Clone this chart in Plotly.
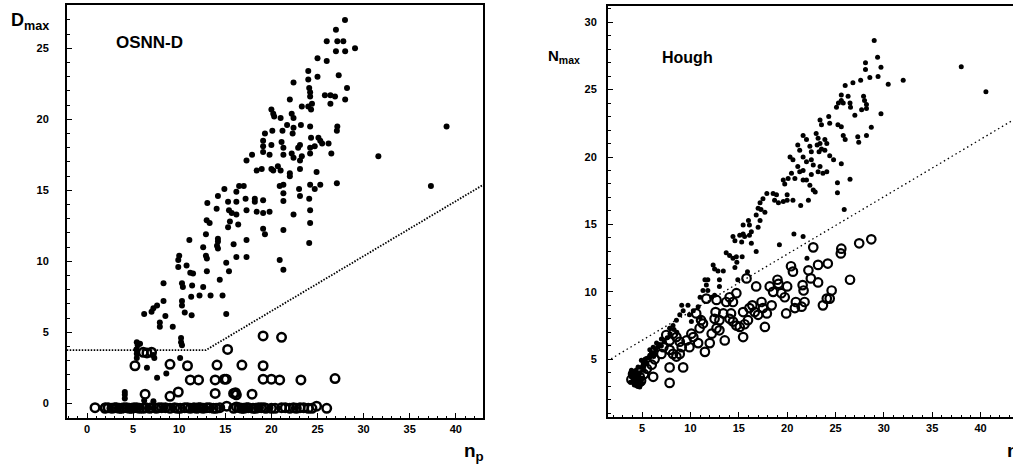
import plotly.graph_objects as go

# ---------------- Left panel: OSNN-D ----------------
osnn_dot_x = [27.98, 27.0, 26.0, 27.15, 27.8, 29.07, 27.0, 28.0, 25.0, 26.0, 24.0, 25.0, 27.3, 22.4, 24.0,
              28.2, 24.1, 24.2, 25.8, 26.4, 26.9, 28.0, 22.0, 24.2, 24.4, 26.4, 23.3, 24.0, 24.3, 20.0,
              20.2, 22.2, 22.4, 20.3, 21.0, 21.7, 22.4, 23.2, 24.2, 27.15, 27.1, 19.3, 19.1, 20.1, 21.2,
              22.3, 24.3, 25.1, 25.3, 20.0, 21.1, 23.1, 22.9, 24.2, 24.2, 25.5, 26.2, 24.7, 19.1, 19.1,
              21.3, 21.3, 19.8, 17.9, 17.3, 22.2, 22.4, 23.3, 23.1, 26.5, 20.0, 20.2, 20.7, 21.0, 18.95,
              18.4, 23.1, 22.0, 22.0, 24.9, 27.1, 24.2, 25.3, 24.7, 21.3, 20.9, 16.5, 14.9, 16.2, 17.0,
              14.2, 15.3, 16.2, 17.2, 18.2, 18.2, 19.1, 21.3, 21.3, 23.0, 23.1, 24.1, 13.05, 14.06, 15.4,
              15.7, 16.2, 17.3, 18.4, 19.1, 19.8, 22.4, 24.2, 12.98, 13.3, 15.5, 16.4, 15.3, 24.2, 19.1,
              21.3, 19.3, 11.1, 12.9, 14.2, 14.2, 14.1, 14.2, 15.9, 17.3, 12.6, 24.1, 12.9, 13.0, 16.2,
              17.3, 20.9, 21.3, 10.0, 9.9, 9.9, 10.8, 13.0, 15.1, 15.4, 11.2, 11.5, 8.3, 10.3, 10.4,
              11.4, 12.6, 14.4, 8.3, 10.3, 10.3, 11.3, 12.2, 13.4, 14.7, 7.6, 7.2, 7.0, 8.5, 10.6,
              11.35, 6.2, 15.1, 7.9, 7.9, 9.3, 5.4, 5.5, 5.75, 10.2, 10.2, 10.3, 5.35, 5.4, 5.4,
              7.2, 7.3, 10.1, 6.5, 7.6, 8.6, 4.1, 4.1, 4.1, 6.2, 7.2, 31.6, 37.3, 39.0,
              3.5, 4.5, 8.5, 11.7, 16.6, 18.5, 2.6, 5.0, 6.6, 9.3, 12.9, 14.6, 17.7, 19.9]
osnn_dot_y = [27.0, 26.3, 25.5, 25.5, 25.5, 25.0, 24.8, 24.8, 24.3, 24.1, 23.4, 23.0, 23.1, 22.6, 22.8,
              22.2, 22.2, 21.9, 21.7, 21.7, 21.6, 21.4, 21.4, 21.6, 21.1, 21.1, 20.9, 20.9, 20.7, 20.7,
              20.4, 20.4, 20.1, 20.2, 20.1, 19.6, 19.4, 19.6, 19.5, 19.5, 19.2, 19.0, 18.5, 19.2, 19.2,
              19.0, 18.7, 18.7, 18.5, 18.2, 18.4, 18.2, 18.0, 18.0, 17.6, 18.3, 18.3, 18.1, 18.1, 17.7,
              18.0, 17.5, 17.5, 17.5, 17.1, 17.6, 17.3, 17.4, 17.1, 17.6, 16.5, 16.4, 16.7, 16.4, 16.5,
              16.4, 16.5, 16.2, 16.0, 16.3, 15.5, 15.4, 15.4, 15.1, 15.4, 15.3, 15.3, 15.1, 14.9, 15.3,
              14.6, 14.2, 14.2, 14.4, 14.4, 14.2, 14.3, 14.8, 14.25, 15.1, 14.6, 14.4, 14.1, 13.7, 13.6,
              13.4, 13.3, 13.6, 13.5, 13.4, 13.5, 13.3, 13.6, 12.9, 12.7, 12.8, 12.6, 12.4, 12.7, 12.3,
              12.2, 11.9, 11.5, 11.9, 11.6, 11.4, 11.1, 10.9, 11.2, 11.5, 11.0, 11.3, 10.4, 10.2, 10.3,
              10.3, 10.1, 9.4, 10.4, 10.1, 9.6, 9.7, 9.3, 9.9, 9.3, 9.2, 9.15, 8.45, 8.45, 8.2,
              8.3, 8.2, 8.7, 7.2, 7.2, 6.9, 7.5, 7.6, 7.6, 7.6, 6.9, 6.7, 6.45, 6.15, 6.4,
              6.2, 6.3, 6.3, 5.7, 5.4, 5.4, 4.3, 4.1, 4.2, 4.6, 4.3, 4.1, 3.8, 3.5, 3.2,
              3.4, 3.2, 3.2, 2.5, 1.8, 2.1, 0.8, 0.6, 0.35, 0.2, 0.15, 17.4, 15.3, 19.5,
              -0.3, -0.25, -0.3, -0.3, -0.3, -0.3, -0.3, -0.3, -0.3, -0.3, -0.3, -0.3, -0.3, -0.3]

osnn_circ_x = [6.1, 7.0, 6.5, 5.2, 9.0, 10.9, 14.1, 16.8, 19.1, 15.25, 19.1, 21.1, 11.2, 12.1, 13.9,
               14.9, 15.1, 19.1, 20.0, 20.9, 23.2, 26.9, 6.3, 9.0, 9.9, 13.9, 15.9, 16.1, 16.2, 17.9,
               0.87, 1.95, 2.3, 2.7, 3.2, 3.75, 4.3, 4.85, 5.4, 6.1, 7.0, 7.5, 8.1, 9.0, 9.5,
               10.1, 10.6, 11.2, 12.1, 12.6, 13.0, 13.7, 15.15, 15.9, 16.5, 17.0, 17.5, 18.0, 18.9, 19.4,
               20.0, 21.1, 22.0, 22.4, 23.1, 24.0, 24.9, 26.0,
               2.0, 3.0, 3.5, 4.0, 4.6, 5.1, 5.7, 6.4, 6.8, 7.8, 8.5, 9.8, 10.9, 11.6, 11.9,
               12.3, 13.3, 14.0, 14.4, 16.2, 16.8, 17.3, 18.3, 18.6, 19.2, 20.4, 21.5, 22.7, 23.5, 24.4]
osnn_circ_y = [3.6, 3.6, 3.55, 2.65, 2.75, 2.65, 2.7, 2.7, 2.65, 3.8, 4.75, 4.65, 1.65, 1.65, 1.65,
               1.7, 1.7, 1.7, 1.7, 1.65, 1.65, 1.75, 0.65, 0.5, 0.8, 0.7, 0.7, 0.75, 0.6, 0.65,
               -0.3, -0.35, -0.3, -0.35, -0.3, -0.35, -0.3, -0.35, -0.3, -0.35, -0.3, -0.35, -0.3, -0.35, -0.3,
               -0.35, -0.3, -0.35, -0.3, -0.35, -0.3, -0.35, -0.2, -0.35, -0.3, -0.35, -0.3, -0.35, -0.3, -0.35,
               -0.35, -0.3, -0.35, -0.3, -0.3, -0.35, -0.2, -0.35,
               -0.3, -0.3, -0.35, -0.3, -0.35, -0.3, -0.35, -0.3, -0.35, -0.3, -0.3, -0.35, -0.3, -0.3, -0.35,
               -0.3, -0.3, -0.35, -0.3, -0.25, -0.35, -0.3, -0.35, -0.3, -0.3, -0.35, -0.3, -0.35, -0.3, -0.35]

osnn_cut_x = [-2.2, 12.9, 43.0]
osnn_cut_y = [3.75, 3.75, 15.4]

# ---------------- Right panel: Hough ----------------
hough_dot_x = [29.0, 29.35, 28.1, 28.1, 29.7, 29.4, 28.55, 27.6, 26.8, 26.0, 30.45, 32.0, 38.0, 40.55,
               25.6, 25.6, 25.8, 26.3, 25.3, 25.1, 26.5, 26.55, 27.9, 28.0, 28.2, 27.7, 28.2, 27.0, 29.7,
               24.3, 24.4, 23.4, 23.55, 25.25, 25.6, 28.7, 25.8, 26.0, 27.3, 27.4, 28.2, 23.0, 23.2, 23.4,
               23.9, 24.1, 21.65, 22.0, 22.35, 22.5, 23.1, 23.55, 23.3, 23.9, 24.4, 24.8, 25.6, 21.1, 21.3,
               20.3, 20.6, 21.65, 22.0, 22.5, 22.7, 23.4, 23.2, 23.7, 24.1, 21.1, 21.3, 21.65, 20.45, 20.8,
               19.6, 19.75, 20.1, 21.65, 22.0, 22.5, 26.5, 25.2, 25.2, 22.35, 22.7, 22.9, 18.55, 18.9, 18.7,
               19.1, 19.6, 20.0, 20.0, 20.6, 21.4, 22.2, 25.9, 17.9, 17.5, 17.2, 17.0, 17.3, 17.7, 16.8,
               17.2, 17.0, 16.0, 16.1, 16.3, 15.45, 15.45, 15.6, 15.1, 15.3, 16.1, 16.3, 14.4, 14.6, 19.2,
               20.7, 21.65, 22.05, 16.8, 13.7, 14.05, 14.4, 14.75, 14.8, 15.35, 14.6, 12.35, 12.5, 12.85, 13.4,
               15.9, 11.5, 11.8, 11.65, 13.0, 13.0, 14.9, 11.3, 11.8, 11.0, 12.2, 12.5, 10.8, 10.3, 9.1,
               9.25, 8.9, 9.75, 8.55, 8.2, 7.85, 7.0, 6.5, 6.15, 5.8, 9.9, 10.1, 11.0,
               3.9, 4.24, 4.41, 4.76, 4.93, 4.59, 4.93, 5.45, 5.1, 5.45, 5.8, 5.97, 6.3, 4.1, 4.6, 5.2,
               3.8, 3.9, 4.0, 4.1, 4.2, 4.3, 4.4, 4.5, 4.6, 4.7, 4.8, 4.9, 5.0, 5.1, 5.2,
               5.3, 5.5, 5.6, 5.8, 6.0, 6.2, 6.4, 6.6, 6.8, 7.0, 7.3, 7.6, 7.9, 8.3, 8.6]
hough_dot_y = [28.64, 27.4, 27.0, 26.5, 26.66, 25.97, 25.9, 25.7, 25.5, 25.3, 25.4, 25.7, 26.7, 24.85,
               24.6, 24.2, 24.0, 24.5, 24.0, 23.7, 24.0, 23.7, 24.5, 24.2, 23.9, 23.5, 23.6, 23.1, 23.2,
               23.0, 22.5, 22.75, 22.4, 22.4, 22.25, 22.2, 21.6, 21.3, 21.5, 21.1, 21.6, 21.75, 21.4, 21.0,
               21.3, 21.0, 21.6, 21.3, 20.8, 20.4, 20.9, 20.6, 20.4, 20.5, 20.1, 19.8, 19.5, 20.9, 20.5,
               20.0, 19.8, 20.0, 19.65, 19.8, 19.4, 19.3, 18.9, 18.8, 18.9, 19.3, 18.9, 19.0, 18.8, 18.4,
               18.3, 18.0, 18.4, 18.3, 18.3, 18.7, 18.35, 18.1, 17.35, 17.9, 17.55, 17.4, 17.3, 17.2, 16.8,
               16.6, 16.7, 17.2, 16.8, 16.8, 16.4, 16.8, 16.1, 17.3, 16.9, 16.6, 16.2, 16.1, 15.9, 15.7,
               15.3, 14.8, 15.3, 14.95, 14.45, 14.95, 14.3, 14.1, 14.2, 13.7, 14.2, 13.6, 14.1, 13.8, 13.5,
               14.3, 14.1, 12.5, 13.0, 12.9, 12.7, 12.5, 12.6, 12.2, 12.6, 11.8, 12.0, 11.7, 11.55, 11.55,
               11.5, 10.9, 10.9, 10.5, 10.9, 10.4, 10.9, 10.1, 10.1, 9.6, 9.6, 9.75, 8.9, 8.6, 9.0,
               8.6, 8.3, 9.0, 7.9, 7.5, 7.3, 6.5, 6.2, 5.9, 5.7, 8.3, 7.8, 8.1,
               4.18, 3.69, 3.2, 2.95, 3.44, 4.43, 4.93, 5.05, 4.56, 4.68, 5.17, 5.42, 5.42, 3.4, 3.9, 4.2,
               3.3, 3.7, 4.0, 3.5, 3.1, 3.9, 4.2, 3.3, 3.0, 3.6, 4.0, 4.4, 3.2, 4.8, 4.5,
               5.0, 4.7, 5.1, 5.3, 5.5, 5.2, 5.7, 5.9, 6.1, 6.0, 6.3, 6.6, 6.9, 7.2, 7.0]

hough_circ_x = [28.7, 27.45, 26.5, 25.6, 25.55, 22.7, 24.2, 23.2, 22.2, 22.45, 23.2, 20.4, 20.6, 21.6, 21.7,
                23.7, 24.1, 24.6, 24.4, 21.8, 21.5, 20.8, 20.9, 20.0, 19.75, 19.4, 19.0, 19.1, 18.2, 18.55,
                19.9, 18.4, 17.35, 17.5, 17.9, 17.7, 17.0, 16.65, 15.8, 16.8, 16.4, 16.1, 15.45, 15.6, 15.95,
                15.45, 14.75, 14.4, 14.05, 13.7, 14.2, 14.05, 14.4, 14.75, 15.1, 13.55, 13.4, 13.0, 12.6, 12.5,
                12.7, 13.0, 12.2, 12.0, 11.65, 12.7, 10.6, 11.1, 11.3, 10.95, 10.1, 10.3, 9.6, 9.9, 10.8,
                11.5, 8.2, 8.55, 7.5, 7.85, 8.9, 9.1, 7.85, 8.2, 8.55, 8.9, 7.85, 9.25, 7.85, 6.15,
                4.07, 4.4, 4.76, 7.2, 7.0,
                3.9, 4.2, 4.6, 4.9, 5.2, 5.5, 6.0, 6.3]
hough_circ_y = [13.9, 13.6, 10.9, 13.2, 12.85, 13.3, 12.1, 12.0, 11.6, 11.0, 10.7, 11.9, 11.5, 10.5, 10.1,
                9.0, 9.5, 10.1, 9.5, 9.25, 8.9, 8.8, 9.25, 10.4, 9.6, 9.9, 10.9, 10.6, 10.4, 10.0,
                8.4, 9.0, 9.25, 8.8, 8.4, 7.4, 8.3, 8.5, 11.0, 10.4, 9.0, 8.8, 8.5, 7.6, 7.9,
                6.65, 9.9, 9.25, 9.6, 9.25, 8.4, 8.0, 7.8, 7.5, 7.4, 6.4, 8.4, 7.9, 8.5, 8.0,
                7.3, 7.15, 6.9, 6.2, 9.5, 9.4, 8.4, 7.9, 7.65, 7.3, 6.9, 6.65, 6.4, 5.9, 6.2,
                5.55, 6.9, 6.65, 6.8, 6.4, 6.3, 5.9, 5.7, 5.4, 5.2, 5.4, 4.4, 4.4, 3.25, 3.7,
                3.9, 3.4, 3.7, 5.9, 5.4,
                3.5, 3.8, 3.2, 3.4, 3.9, 4.3, 4.6, 5.0]

hough_cut_x = [1.8, 43.4]
hough_cut_y = [5.04, 22.76]

# tick labels
osnn_xticks = [0, 5, 10, 15, 20, 25, 30, 35, 40]
osnn_yticks = [0, 5, 10, 15, 20, 25]
hough_xticks = [5, 10, 15, 20, 25, 30, 35, 40]
hough_yticks = [5, 10, 15, 20, 25, 30]

FONT = "Liberation Sans, Arial, sans-serif"
W, H = 1013, 466

fig = go.Figure()

circ_style = dict(symbol="circle-open", color="black", size=8.5, line=dict(width=2.5, color="black"))

fig.add_trace(go.Scatter(x=osnn_cut_x, y=osnn_cut_y, mode="lines",
                         line=dict(color="black", width=1.8, dash="1.5px,1.5px"), xaxis="x", yaxis="y"))
fig.add_trace(go.Scatter(x=osnn_dot_x, y=osnn_dot_y, mode="markers",
                         marker=dict(color="black", size=6, line=dict(width=0)), xaxis="x", yaxis="y"))
fig.add_trace(go.Scatter(x=osnn_circ_x, y=osnn_circ_y, mode="markers", marker=circ_style, xaxis="x", yaxis="y"))

fig.add_trace(go.Scatter(x=hough_cut_x, y=hough_cut_y, mode="lines",
                         line=dict(color="black", width=1.3, dash="1.5px,3px"), xaxis="x2", yaxis="y2"))
fig.add_trace(go.Scatter(x=hough_dot_x, y=hough_dot_y, mode="markers",
                         marker=dict(color="black", size=5, line=dict(width=0)), xaxis="x2", yaxis="y2"))
fig.add_trace(go.Scatter(x=hough_circ_x, y=hough_circ_y, mode="markers",
                         marker=dict(symbol="circle-open", color="black", size=8.5,
                                     line=dict(width=2.2, color="black")), xaxis="x2", yaxis="y2"))

tickfont = dict(family=FONT, size=11, color="black", weight="bold")

def axis_common(**kw):
    d = dict(showgrid=False, zeroline=False, showline=True, linewidth=2, linecolor="black",
             ticks="inside", ticklen=5, tickwidth=1, tickcolor="black", tickfont=tickfont,
             minor=dict(dtick=1, ticks="inside", ticklen=2.5, tickwidth=1, tickcolor="black"))
    d.update(kw)
    return d

fig.update_layout(
    width=W, height=H, margin=dict(l=0, r=0, t=0, b=0),
    paper_bgcolor="white", plot_bgcolor="white", showlegend=False,
    xaxis=axis_common(domain=[67 / W, 483 / W], range=[-2.17, 42.95], tickvals=osnn_xticks,
                      mirror=True, anchor="y", ticklabelstandoff=0),
    yaxis=axis_common(domain=[48 / H, 461 / H], range=[-1.03, 28.05], tickvals=osnn_yticks,
                      mirror=True, anchor="x", ticklabelstandoff=14),
    xaxis2=axis_common(domain=[608 / W, 1.0], range=[1.48, 43.35], tickvals=hough_xticks,
                       mirror=True, anchor="y2", ticklabelstandoff=0),
    yaxis2=axis_common(domain=[49 / H, 460 / H], range=[0.72, 31.2], tickvals=hough_yticks,
                       mirror=False, anchor="x2", ticklabelstandoff=7),
)

def px_x(p):
    return p / W

def px_y(p):
    return 1 - p / H

ann = [
    dict(text="<b>D<sub>max</sub></b>", x=px_x(9), y=px_y(35), xanchor="left", yanchor="bottom",
         font=dict(family=FONT, size=18, color="black")),
    dict(text="<b>OSNN-D</b>", x=px_x(149), y=px_y(42), xanchor="center", yanchor="middle",
         font=dict(family=FONT, size=17, color="black")),
    dict(text="<b>n<sub>p</sub></b>", x=px_x(462), y=px_y(466), xanchor="left", yanchor="bottom",
         font=dict(family=FONT, size=19, color="black")),
    dict(text="<b>N<sub>max</sub></b>", x=px_x(546), y=px_y(68), xanchor="left", yanchor="bottom",
         font=dict(family=FONT, size=15, color="black")),
    dict(text="<b>Hough</b>", x=px_x(687), y=px_y(57), xanchor="center", yanchor="middle",
         font=dict(family=FONT, size=16, color="black")),
    dict(text="<b>n<sub>p</sub></b>", x=px_x(1005), y=px_y(466), xanchor="left", yanchor="bottom",
         font=dict(family=FONT, size=19, color="black")),
]
for a in ann:
    a.update(xref="paper", yref="paper", showarrow=False)
fig.update_layout(annotations=ann)

fig.write_html("out.html", config={"displayModeBar": False},
               post_script="document.body.style.margin='0px';")
